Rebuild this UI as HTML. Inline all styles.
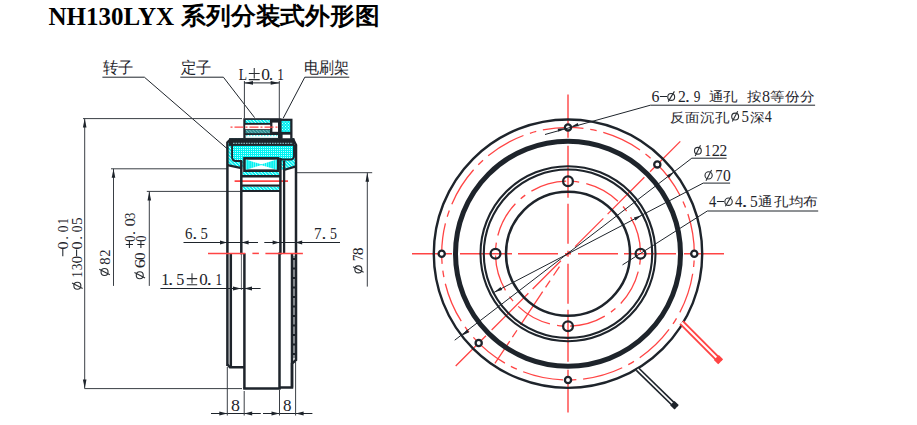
<!DOCTYPE html>
<html><head><meta charset="utf-8"><style>
html,body{margin:0;padding:0;background:#fff;width:917px;height:425px;overflow:hidden}
svg{display:block}
</style></head><body>
<svg width="917" height="425" viewBox="0 0 917 425">
<rect width="917" height="425" fill="#fff"/>
<text x="48.5" y="25" font-family="Liberation Serif" font-weight="bold" font-size="25" fill="#000">NH130LYX</text>
<text x="181.3" y="23.6" font-family="Liberation Serif" font-weight="bold" font-size="24" fill="#000" textLength="198" lengthAdjust="spacingAndGlyphs">系列分装式外形图</text>
<circle cx="568.0" cy="253.7" r="126.3" fill="none" stroke="#ff4444" stroke-width="1.3" stroke-dasharray="40.85 6.8 6.6 6.8" stroke-dashoffset="40.88"/>
<circle cx="568.0" cy="253.7" r="72.5" fill="none" stroke="#ff4444" stroke-width="1.3" stroke-dasharray="36.5 7.3 5.8 7.3" stroke-dashoffset="38.66"/>
<line x1="568.00" y1="253.70" x2="412.00" y2="253.70" stroke="#ff4444" stroke-width="1.4" stroke-dasharray="3 7 40 6 52 8 100"/>
<line x1="568.00" y1="253.70" x2="724.00" y2="253.70" stroke="#ff4444" stroke-width="1.4" stroke-dasharray="3 7 40 6 52 8 100"/>
<line x1="568.00" y1="253.70" x2="568.00" y2="94.40" stroke="#ff4444" stroke-width="1.4" stroke-dasharray="3 7 40 6 52 8 100"/>
<line x1="568.00" y1="253.70" x2="568.00" y2="412.50" stroke="#ff4444" stroke-width="1.4" stroke-dasharray="3 7 40 6 52 8 100"/>
<line x1="568.00" y1="253.70" x2="680.30" y2="141.40" stroke="#ff4444" stroke-width="1.3" stroke-dasharray="3 7 40 6 52 8 100"/>
<line x1="568.00" y1="253.70" x2="455.70" y2="366.00" stroke="#ff4444" stroke-width="1.3" stroke-dasharray="3 7 40 6 52 8 100"/>
<line x1="568.00" y1="253.70" x2="494.90" y2="363.40" stroke="#ff4444" stroke-width="1.3" stroke-dasharray="0 15.4 10.8 6.1 8.2 5.2 39.8 6.5 8.3 4.7 40"/>
<circle cx="568.0" cy="253.7" r="134.2" fill="none" stroke="#1e242b" stroke-width="2.4" />
<circle cx="568.0" cy="253.7" r="112.5" fill="none" stroke="#1e242b" stroke-width="5" />
<circle cx="568.0" cy="253.7" r="87.5" fill="none" stroke="#1e242b" stroke-width="2.1" />
<circle cx="568.0" cy="253.7" r="84.2" fill="none" stroke="#1e242b" stroke-width="2.1" />
<circle cx="568.0" cy="253.7" r="62" fill="none" stroke="#1e242b" stroke-width="2.5" />
<circle cx="568.00" cy="127.40" r="3.1" fill="#fff" stroke="#1e242b" stroke-width="2.3"/>
<circle cx="657.31" cy="164.39" r="3.1" fill="#fff" stroke="#1e242b" stroke-width="2.3"/>
<circle cx="694.30" cy="253.70" r="3.1" fill="#fff" stroke="#1e242b" stroke-width="2.3"/>
<circle cx="441.70" cy="253.70" r="3.1" fill="#fff" stroke="#1e242b" stroke-width="2.3"/>
<circle cx="478.69" cy="343.01" r="3.1" fill="#fff" stroke="#1e242b" stroke-width="2.3"/>
<circle cx="568.00" cy="380.00" r="3.1" fill="#fff" stroke="#1e242b" stroke-width="2.3"/>
<circle cx="568.00" cy="181.20" r="4.9" fill="none" stroke="#1e242b" stroke-width="2.3"/>
<circle cx="640.50" cy="253.70" r="4.9" fill="none" stroke="#1e242b" stroke-width="2.3"/>
<circle cx="495.50" cy="253.70" r="4.9" fill="none" stroke="#1e242b" stroke-width="2.3"/>
<circle cx="568.00" cy="326.20" r="4.9" fill="none" stroke="#1e242b" stroke-width="2.3"/>
<line x1="454.70" y1="340.20" x2="691.80" y2="158.20" stroke="#1e242b" stroke-width="1.0" />
<line x1="691.80" y1="158.20" x2="726.60" y2="158.20" stroke="#1e242b" stroke-width="1.0" />
<polygon points="674.26,171.73 668.96,177.96 666.89,175.27" fill="#1e242b"/>
<polygon points="461.74,335.67 467.04,329.44 469.11,332.13" fill="#1e242b"/>
<line x1="493.60" y1="292.60" x2="703.20" y2="183.10" stroke="#1e242b" stroke-width="1.0" />
<line x1="703.20" y1="183.10" x2="730.10" y2="183.10" stroke="#1e242b" stroke-width="1.0" />
<polygon points="641.75,215.19 635.45,220.40 633.87,217.38" fill="#1e242b"/>
<polygon points="494.25,292.21 500.55,287.00 502.13,290.02" fill="#1e242b"/>
<line x1="622.50" y1="264.90" x2="707.30" y2="211.00" stroke="#1e242b" stroke-width="1.0" />
<line x1="707.30" y1="211.00" x2="818.20" y2="211.00" stroke="#1e242b" stroke-width="1.0" />
<line x1="545.00" y1="134.50" x2="650.40" y2="105.20" stroke="#1e242b" stroke-width="1.0" />
<line x1="650.40" y1="105.20" x2="815.10" y2="105.20" stroke="#1e242b" stroke-width="1.0" />
<polygon points="564.80,128.30 558.48,131.72 557.63,128.63" fill="#1e242b"/>
<polygon points="571.50,126.50 577.82,123.08 578.67,126.17" fill="#1e242b"/>
<line x1="681.50" y1="322.50" x2="720.60" y2="361.80" stroke="#ff4444" stroke-width="5.8" />
<line x1="681.50" y1="322.50" x2="720.60" y2="361.80" stroke="#fff" stroke-width="2.0" />
<line x1="716.37" y1="357.55" x2="720.60" y2="361.80" stroke="#ff4444" stroke-width="7.0" />
<line x1="637.50" y1="369.20" x2="676.60" y2="407.30" stroke="#1e242b" stroke-width="5.0" />
<line x1="637.50" y1="369.20" x2="676.60" y2="407.30" stroke="#fff" stroke-width="1.7" />
<line x1="672.30" y1="403.11" x2="676.60" y2="407.30" stroke="#1e242b" stroke-width="6.2" />
<text transform="translate(651.62,101.90) scale(0.995,1)" font-family="Liberation Serif" font-size="16.0" fill="#1e242b">6</text>
<line x1="659.9" y1="96.5" x2="667" y2="96.5" stroke="#1e242b" stroke-width="1.05"/>
<circle cx="671.2" cy="96.95" r="3.45" fill="none" stroke="#2a2e33" stroke-width="1.1"/>
<line x1="668.2" y1="101.6" x2="674.4" y2="91.4" stroke="#2a2e33" stroke-width="1.1"/>
<text transform="translate(677.91,101.90) scale(0.982,1)" font-family="Liberation Serif" font-size="16.0" fill="#1e242b">2</text>
<text transform="translate(685.02,101.90) scale(1.217,1)" font-family="Liberation Serif" font-size="16.0" fill="#1e242b">.</text>
<text transform="translate(693.77,101.90) scale(0.835,1)" font-family="Liberation Serif" font-size="16.0" fill="#1e242b">9</text>
<text transform="translate(761.89,101.90) scale(1.003,1)" font-family="Liberation Serif" font-size="16.0" fill="#1e242b">8</text>
<text transform="translate(708.7,100.8) scale(1.12,1)" font-family="Liberation Serif" font-size="13.2" fill="#1e242b">通</text>
<text transform="translate(723.4,100.8) scale(1.12,1)" font-family="Liberation Serif" font-size="13.2" fill="#1e242b">孔</text>
<text transform="translate(746.7,100.8) scale(1.12,1)" font-family="Liberation Serif" font-size="13.2" fill="#1e242b">按</text>
<text transform="translate(769.7,100.8) scale(1.12,1)" font-family="Liberation Serif" font-size="13.2" fill="#1e242b">等</text>
<text transform="translate(784.9,100.8) scale(1.12,1)" font-family="Liberation Serif" font-size="13.2" fill="#1e242b">份</text>
<text transform="translate(799.7,100.8) scale(1.12,1)" font-family="Liberation Serif" font-size="13.2" fill="#1e242b">分</text>
<text transform="translate(670.2,121.7) scale(1.12,1)" font-family="Liberation Serif" font-size="13.2" fill="#1e242b">反</text>
<text transform="translate(685.2,121.7) scale(1.12,1)" font-family="Liberation Serif" font-size="13.2" fill="#1e242b">面</text>
<text transform="translate(700.2,121.7) scale(1.12,1)" font-family="Liberation Serif" font-size="13.2" fill="#1e242b">沉</text>
<text transform="translate(714.6,121.7) scale(1.12,1)" font-family="Liberation Serif" font-size="13.2" fill="#1e242b">孔</text>
<text transform="translate(749.7,121.7) scale(1.12,1)" font-family="Liberation Serif" font-size="13.2" fill="#1e242b">深</text>
<circle cx="735.15" cy="116.6" r="3.45" fill="none" stroke="#2a2e33" stroke-width="1.1"/>
<line x1="732.3" y1="121.5" x2="737.7" y2="111.2" stroke="#2a2e33" stroke-width="1.1"/>
<text transform="translate(741.53,121.80) scale(0.931,1)" font-family="Liberation Serif" font-size="16.0" fill="#1e242b">5</text>
<text transform="translate(764.73,121.80) scale(0.874,1)" font-family="Liberation Serif" font-size="16.0" fill="#1e242b">4</text>
<circle cx="697.9" cy="150.75" r="3.4" fill="none" stroke="#2a2e33" stroke-width="1.1"/>
<line x1="695.2" y1="156" x2="700.5" y2="145.3" stroke="#2a2e33" stroke-width="1.1"/>
<text transform="translate(704.63,155.80) scale(0.763,1)" font-family="Liberation Serif" font-size="16.0" fill="#1e242b">1</text>
<text transform="translate(711.78,155.80) scale(1.029,1)" font-family="Liberation Serif" font-size="16.0" fill="#1e242b">2</text>
<text transform="translate(719.52,155.80) scale(0.967,1)" font-family="Liberation Serif" font-size="16.0" fill="#1e242b">2</text>
<circle cx="708.6" cy="175.4" r="3.6" fill="none" stroke="#2a2e33" stroke-width="1.1"/>
<line x1="706.0" y1="180.8" x2="711.6" y2="170.0" stroke="#2a2e33" stroke-width="1.1"/>
<text transform="translate(715.24,180.80) scale(0.910,1)" font-family="Liberation Serif" font-size="16.0" fill="#1e242b">7</text>
<text transform="translate(722.91,180.80) scale(0.973,1)" font-family="Liberation Serif" font-size="16.0" fill="#1e242b">0</text>
<text transform="translate(708.91,206.80) scale(0.914,1)" font-family="Liberation Serif" font-size="16.0" fill="#1e242b">4</text>
<line x1="716.9" y1="201.5" x2="724" y2="201.5" stroke="#1e242b" stroke-width="1.05"/>
<circle cx="728.55" cy="201.65" r="3.7" fill="none" stroke="#2a2e33" stroke-width="1.1"/>
<line x1="725.4" y1="206.2" x2="731.3" y2="196.2" stroke="#2a2e33" stroke-width="1.1"/>
<text transform="translate(735.11,206.80) scale(0.914,1)" font-family="Liberation Serif" font-size="16.0" fill="#1e242b">4</text>
<text transform="translate(741.48,206.80) scale(1.534,1)" font-family="Liberation Serif" font-size="16.0" fill="#1e242b">.</text>
<text transform="translate(750.11,206.80) scale(0.962,1)" font-family="Liberation Serif" font-size="16.0" fill="#1e242b">5</text>
<text transform="translate(758.0,205.9) scale(1.12,1)" font-family="Liberation Serif" font-size="13.2" fill="#1e242b">通</text>
<text transform="translate(773.8,205.9) scale(1.12,1)" font-family="Liberation Serif" font-size="13.2" fill="#1e242b">孔</text>
<text transform="translate(788.8,205.9) scale(1.12,1)" font-family="Liberation Serif" font-size="13.2" fill="#1e242b">均</text>
<text transform="translate(803.2,205.9) scale(1.12,1)" font-family="Liberation Serif" font-size="13.2" fill="#1e242b">布</text>
<text x="102.8" y="72.8" font-family="Liberation Serif" font-size="15.6" fill="#1e242b" text-anchor="start" font-weight="normal" textLength="30.8" lengthAdjust="spacingAndGlyphs">转子</text>
<text x="181.1" y="73.0" font-family="Liberation Serif" font-size="15.6" fill="#1e242b" text-anchor="start" font-weight="normal" textLength="30.8" lengthAdjust="spacingAndGlyphs">定子</text>
<text x="304.3" y="73.0" font-family="Liberation Serif" font-size="15.6" fill="#1e242b" text-anchor="start" font-weight="normal" textLength="45" lengthAdjust="spacingAndGlyphs">电刷架</text>
<text transform="translate(238.71,79.90) scale(0.850,1)" font-family="Liberation Serif" font-size="16.0" fill="#1e242b">L</text>
<path d="M248.8,73.4 H259.7 M254.25,68.1 V78.39999999999999 M248.8,79.6 H259.7" stroke="#2a2e33" stroke-width="1.05" fill="none"/>
<text transform="translate(261.14,79.90) scale(1.091,1)" font-family="Liberation Serif" font-size="16.0" fill="#1e242b">0</text>
<text transform="translate(268.83,79.90) scale(1.111,1)" font-family="Liberation Serif" font-size="16.0" fill="#1e242b">.</text>
<text transform="translate(277.13,79.90) scale(0.834,1)" font-family="Liberation Serif" font-size="16.0" fill="#1e242b">1</text>
<line x1="102.40" y1="77.20" x2="144.40" y2="77.20" stroke="#1e242b" stroke-width="1" />
<line x1="144.40" y1="77.20" x2="227.50" y2="149.00" stroke="#1e242b" stroke-width="1" />
<line x1="180.30" y1="77.20" x2="223.40" y2="77.20" stroke="#1e242b" stroke-width="1" />
<line x1="223.40" y1="77.20" x2="254.60" y2="117.60" stroke="#1e242b" stroke-width="1" />
<line x1="304.80" y1="77.20" x2="349.30" y2="77.20" stroke="#1e242b" stroke-width="1" />
<line x1="304.80" y1="77.20" x2="283.10" y2="118.40" stroke="#1e242b" stroke-width="1" />
<line x1="244.40" y1="81.00" x2="244.40" y2="118.00" stroke="#3a3f45" stroke-width="1" />
<line x1="279.30" y1="81.00" x2="279.30" y2="118.00" stroke="#3a3f45" stroke-width="1" />
<line x1="244.40" y1="82.90" x2="279.30" y2="82.90" stroke="#1e242b" stroke-width="1" />
<polygon points="244.40,82.90 253.00,81.10 253.00,84.70" fill="#1e242b"/>
<polygon points="279.30,82.90 270.70,84.70 270.70,81.10" fill="#1e242b"/>
<line x1="83.00" y1="118.60" x2="242.00" y2="118.60" stroke="#3a3f45" stroke-width="1" />
<line x1="84.70" y1="118.60" x2="84.70" y2="388.50" stroke="#3a3f45" stroke-width="1" />
<polygon points="84.70,118.60 86.50,127.60 82.90,127.60" fill="#1e242b"/>
<polygon points="84.70,388.50 82.90,379.50 86.50,379.50" fill="#1e242b"/>
<line x1="84.50" y1="388.60" x2="242.00" y2="388.60" stroke="#3a3f45" stroke-width="1" />
<line x1="111.00" y1="168.80" x2="227.00" y2="168.80" stroke="#3a3f45" stroke-width="1" />
<line x1="113.50" y1="168.80" x2="113.50" y2="285.90" stroke="#3a3f45" stroke-width="1" />
<polygon points="113.50,168.80 115.30,177.80 111.70,177.80" fill="#1e242b"/>
<line x1="146.80" y1="191.40" x2="241.00" y2="191.40" stroke="#3a3f45" stroke-width="1" />
<line x1="149.30" y1="191.40" x2="149.30" y2="285.90" stroke="#3a3f45" stroke-width="1" />
<polygon points="149.30,191.40 151.10,200.40 147.50,200.40" fill="#1e242b"/>
<line x1="296.00" y1="172.70" x2="372.20" y2="172.70" stroke="#3a3f45" stroke-width="1" />
<line x1="367.30" y1="172.70" x2="367.30" y2="286.60" stroke="#3a3f45" stroke-width="1" />
<polygon points="367.30,172.70 369.10,181.70 365.50,181.70" fill="#1e242b"/>
<circle cx="77.35" cy="285.75" r="3.5" fill="none" stroke="#2a2e33" stroke-width="1.1"/>
<line x1="72.05" y1="283.05" x2="82.65" y2="288.55" stroke="#2a2e33" stroke-width="1.1"/>
<text transform="translate(82.00,277.57) rotate(-90) scale(0.788,1)" font-family="Liberation Serif" font-size="15.5" fill="#1e242b">1</text>
<text transform="translate(82.00,270.14) rotate(-90) scale(0.859,1)" font-family="Liberation Serif" font-size="15.5" fill="#1e242b">3</text>
<text transform="translate(82.00,263.58) rotate(-90) scale(0.989,1)" font-family="Liberation Serif" font-size="15.5" fill="#1e242b">0</text>
<line x1="76.6" y1="249.5" x2="76.6" y2="256.3" stroke="#1e242b" stroke-width="1.05"/>
<text transform="translate(82.00,249.61) rotate(-90) scale(1.035,1)" font-family="Liberation Serif" font-size="15.5" fill="#1e242b">0</text>
<text transform="translate(82.00,239.75) rotate(-90) scale(0.928,1)" font-family="Liberation Serif" font-size="15.5" fill="#1e242b">.</text>
<text transform="translate(82.00,232.31) rotate(-90) scale(0.868,1)" font-family="Liberation Serif" font-size="15.5" fill="#1e242b">0</text>
<text transform="translate(82.00,225.09) rotate(-90) scale(0.993,1)" font-family="Liberation Serif" font-size="15.5" fill="#1e242b">5</text>
<line x1="62.8" y1="249" x2="62.8" y2="256.3" stroke="#1e242b" stroke-width="1.05"/>
<text transform="translate(68.10,249.61) rotate(-90) scale(1.035,1)" font-family="Liberation Serif" font-size="15.5" fill="#1e242b">0</text>
<text transform="translate(68.10,239.75) rotate(-90) scale(0.928,1)" font-family="Liberation Serif" font-size="15.5" fill="#1e242b">.</text>
<text transform="translate(68.10,232.31) rotate(-90) scale(0.868,1)" font-family="Liberation Serif" font-size="15.5" fill="#1e242b">0</text>
<text transform="translate(68.10,224.35) rotate(-90) scale(0.770,1)" font-family="Liberation Serif" font-size="15.5" fill="#1e242b">1</text>
<circle cx="104.55" cy="272" r="3.5" fill="none" stroke="#2a2e33" stroke-width="1.1"/>
<line x1="99.25" y1="269.30" x2="109.85" y2="274.80" stroke="#2a2e33" stroke-width="1.1"/>
<text transform="translate(110.10,264.66) rotate(-90) scale(0.944,1)" font-family="Liberation Serif" font-size="15.5" fill="#1e242b">8</text>
<text transform="translate(110.10,256.74) rotate(-90) scale(0.933,1)" font-family="Liberation Serif" font-size="15.5" fill="#1e242b">2</text>
<circle cx="139.75" cy="275.3" r="3.5" fill="none" stroke="#2a2e33" stroke-width="1.1"/>
<line x1="134.45" y1="272.60" x2="145.05" y2="278.10" stroke="#2a2e33" stroke-width="1.1"/>
<text transform="translate(144.90,268.29) rotate(-90) scale(1.193,1)" font-family="Liberation Serif" font-size="15.5" fill="#1e242b">6</text>
<text transform="translate(144.90,259.88) rotate(-90) scale(0.974,1)" font-family="Liberation Serif" font-size="15.5" fill="#1e242b">0</text>
<path d="M137.3,244.4 H144.5 M140.9,240.8 V248.0" stroke="#1e242b" stroke-width="1.05" fill="none"/>
<text transform="translate(145.90,241.87) rotate(-90) scale(0.792,1)" font-family="Liberation Serif" font-size="15.5" fill="#1e242b">0</text>
<path d="M125.80000000000001,244.4 H133.0 M129.4,240.8 V248.0" stroke="#1e242b" stroke-width="1.05" fill="none"/>
<text transform="translate(135.10,241.87) rotate(-90) scale(0.792,1)" font-family="Liberation Serif" font-size="15.5" fill="#1e242b">0</text>
<text transform="translate(135.10,234.96) rotate(-90) scale(1.037,1)" font-family="Liberation Serif" font-size="15.5" fill="#1e242b">.</text>
<text transform="translate(135.10,226.54) rotate(-90) scale(1.081,1)" font-family="Liberation Serif" font-size="15.5" fill="#1e242b">0</text>
<text transform="translate(135.10,219.00) rotate(-90) scale(0.812,1)" font-family="Liberation Serif" font-size="15.5" fill="#1e242b">3</text>
<circle cx="358.35" cy="269.4" r="3.5" fill="none" stroke="#2a2e33" stroke-width="1.1"/>
<line x1="353.05" y1="266.70" x2="363.65" y2="272.20" stroke="#2a2e33" stroke-width="1.1"/>
<text transform="translate(363.10,261.03) rotate(-90) scale(0.812,1)" font-family="Liberation Serif" font-size="15.5" fill="#1e242b">7</text>
<text transform="translate(363.10,255.19) rotate(-90) scale(1.005,1)" font-family="Liberation Serif" font-size="15.5" fill="#1e242b">8</text>
<text transform="translate(184.96,238.70) scale(0.936,1)" font-family="Liberation Serif" font-size="16.0" fill="#1e242b">6</text>
<text transform="translate(192.26,238.70) scale(1.269,1)" font-family="Liberation Serif" font-size="16.0" fill="#1e242b">.</text>
<text transform="translate(200.55,238.70) scale(0.915,1)" font-family="Liberation Serif" font-size="16.0" fill="#1e242b">5</text>
<line x1="183.50" y1="242.50" x2="258.00" y2="242.50" stroke="#1e242b" stroke-width="1" />
<polygon points="227.00,242.50 220.00,244.40 220.00,240.60" fill="#1e242b"/>
<polygon points="241.60,242.50 248.60,240.60 248.60,244.40" fill="#1e242b"/>
<text transform="translate(313.91,238.70) scale(0.941,1)" font-family="Liberation Serif" font-size="16.0" fill="#1e242b">7</text>
<text transform="translate(321.42,238.70) scale(1.217,1)" font-family="Liberation Serif" font-size="16.0" fill="#1e242b">.</text>
<text transform="translate(329.89,238.70) scale(0.869,1)" font-family="Liberation Serif" font-size="16.0" fill="#1e242b">5</text>
<line x1="264.30" y1="242.50" x2="340.00" y2="242.50" stroke="#1e242b" stroke-width="1" />
<polygon points="279.60,242.50 272.60,244.40 272.60,240.60" fill="#1e242b"/>
<polygon points="295.20,242.50 302.20,240.60 302.20,244.40" fill="#1e242b"/>
<text transform="translate(161.28,285.10) scale(1.012,1)" font-family="Liberation Serif" font-size="16.0" fill="#1e242b">1</text>
<text transform="translate(168.11,285.10) scale(1.322,1)" font-family="Liberation Serif" font-size="16.0" fill="#1e242b">.</text>
<text transform="translate(176.16,285.10) scale(1.008,1)" font-family="Liberation Serif" font-size="16.0" fill="#1e242b">5</text>
<path d="M186.8,278.6 H197.2 M192.0,273.2 V283.6 M186.8,284.8 H197.2" stroke="#2a2e33" stroke-width="1.05" fill="none"/>
<text transform="translate(199.15,285.10) scale(1.062,1)" font-family="Liberation Serif" font-size="16.0" fill="#1e242b">0</text>
<text transform="translate(206.55,285.10) scale(1.375,1)" font-family="Liberation Serif" font-size="16.0" fill="#1e242b">.</text>
<text transform="translate(215.53,285.10) scale(0.834,1)" font-family="Liberation Serif" font-size="16.0" fill="#1e242b">1</text>
<line x1="160.40" y1="288.50" x2="260.60" y2="288.50" stroke="#1e242b" stroke-width="1" />
<polygon points="241.00,288.50 233.00,290.40 233.00,286.60" fill="#1e242b"/>
<polygon points="244.00,288.50 252.00,286.60 252.00,290.40" fill="#1e242b"/>
<text transform="translate(230.92,410.80) scale(1.121,1)" font-family="Liberation Serif" font-size="16.0" fill="#1e242b">8</text>
<text transform="translate(282.95,410.80) scale(1.062,1)" font-family="Liberation Serif" font-size="16.0" fill="#1e242b">8</text>
<line x1="211.00" y1="413.50" x2="260.80" y2="413.50" stroke="#1e242b" stroke-width="1" />
<polygon points="227.30,413.50 219.30,415.40 219.30,411.60" fill="#1e242b"/>
<polygon points="244.20,413.50 252.20,411.60 252.20,415.40" fill="#1e242b"/>
<line x1="263.00" y1="413.50" x2="312.40" y2="413.50" stroke="#1e242b" stroke-width="1" />
<polygon points="279.50,413.50 271.50,415.40 271.50,411.60" fill="#1e242b"/>
<polygon points="295.60,413.50 303.60,411.60 303.60,415.40" fill="#1e242b"/>
<line x1="227.30" y1="367.00" x2="227.30" y2="415.50" stroke="#3a3f45" stroke-width="1" />
<line x1="244.20" y1="391.00" x2="244.20" y2="415.50" stroke="#3a3f45" stroke-width="1" />
<line x1="279.50" y1="390.00" x2="279.50" y2="415.50" stroke="#3a3f45" stroke-width="1" />
<line x1="295.60" y1="362.00" x2="295.60" y2="415.50" stroke="#3a3f45" stroke-width="1" />
<defs>
<pattern id="dots" width="2" height="2" patternUnits="userSpaceOnUse"><rect width="2" height="2" fill="#00f2f2"/><rect x="1" y="1" width="1" height="1" fill="#bff"/></pattern>
<pattern id="hatch" width="2.4" height="2.4" patternUnits="userSpaceOnUse" patternTransform="rotate(-45)"><rect width="2.4" height="2.4" fill="#00eeee"/><rect width="0.8" height="2.4" fill="#cff"/></pattern>
<pattern id="hatchd" width="2.4" height="2.4" patternUnits="userSpaceOnUse" patternTransform="rotate(-45)"><rect width="2.4" height="2.4" fill="#2a8c90"/><rect width="0.8" height="2.4" fill="#7bb"/></pattern>
<pattern id="lite" width="3" height="3" patternUnits="userSpaceOnUse"><rect width="3" height="3" fill="#f4ffff"/><rect width="1.5" height="1.2" fill="#5ee"/></pattern>
<pattern id="chk" width="3" height="3" patternUnits="userSpaceOnUse"><rect width="3" height="3" fill="#00f0f0"/><rect x="0" y="0" width="1" height="1" fill="#bff"/><rect x="1.5" y="1.5" width="1" height="1" fill="#bff"/></pattern>
<pattern id="vh" width="2.2" height="2" patternUnits="userSpaceOnUse"><rect width="2.2" height="2" fill="#00f0f0"/><rect width="0.5" height="2" fill="#bff"/></pattern>
</defs>
<rect x="243.3" y="118.2" width="37" height="21" fill="#1e242b" />
<rect x="245.6" y="119.9" width="24.4" height="3.0" fill="url(#hatch)" />
<rect x="245.2" y="124.8" width="25" height="4.4" fill="#fff" />
<rect x="245.6" y="130" width="24.4" height="3.2" fill="url(#hatchd)" />
<rect x="245.6" y="135.0" width="32.4" height="2.9" fill="url(#lite)" />
<rect x="272.4" y="122.6" width="5.6" height="9.2" fill="#fff" />
<rect x="280.2" y="118.7" width="12.3" height="21.2" fill="#1e242b" />
<rect x="280.8" y="120.9" width="9.4" height="11" fill="url(#chk)" />
<line x1="230.50" y1="127.20" x2="281.00" y2="127.20" stroke="#ff4444" stroke-width="1.2" stroke-dasharray="2 2 9 2"/>
<path d="M227.4,141.5 L230,138.3 L293,138.3 L296,144 L296,166.4 L283.5,170 L241,168.3 L227.4,165.5 Z" fill="url(#hatch)"/>
<path d="M232.2,145.5 L293.8,145.5 L293.8,156.5 Q293.8,160 290,160 L280,160 L280,158 L243,158 L243,160.5 L236,160.5 Q232.2,160.5 232.2,157 Z" fill="url(#dots)"/>
<rect x="229" y="138.3" width="65.5" height="7.6" fill="#1e242b" />
<line x1="233.00" y1="143.40" x2="293.00" y2="143.40" stroke="#7fb4b8" stroke-width="1.3" stroke-dasharray="1.6 1"/>
<rect x="282.6" y="134.7" width="7.6" height="4.6" fill="#fff" />
<path d="M232.1,144 L232.1,157 Q232.1,161 236,161 L242,161" fill="none" stroke="#1e242b" stroke-width="1.9"/>
<path d="M280,159.5 L290,159.5 Q294,159.5 294,156 L294,145" fill="none" stroke="#1e242b" stroke-width="1.9"/>
<path d="M227.4,366 L227.4,142.4 L230.4,139.4 L293.2,139.4 L296,145 L296,360 L292,363.5 L292,387.5 L279.6,387.5" fill="none" stroke="#1e242b" stroke-width="2.5" stroke-linejoin="miter"/>
<line x1="227.50" y1="165.20" x2="241.50" y2="168.20" stroke="#1e242b" stroke-width="2.2" />
<line x1="283.00" y1="170.30" x2="296.00" y2="166.40" stroke="#1e242b" stroke-width="2.2" />
<rect x="244.5" y="158.4" width="33.6" height="12.3" fill="#fff" stroke="#1e242b" stroke-width="2.7"/>
<polygon points="245.8,159.6 262.5,164.7 245.8,169.8" fill="url(#vh)"/>
<polygon points="276.8,159.6 260.1,164.7 276.8,169.8" fill="url(#vh)"/>
<line x1="234.60" y1="181.10" x2="288.00" y2="181.10" stroke="#ff4444" stroke-width="1.6" />
<rect x="242.5" y="172" width="37" height="3.1" fill="url(#hatch)" />
<line x1="241.00" y1="176.30" x2="281.00" y2="176.30" stroke="#1e242b" stroke-width="2.4" />
<line x1="241.00" y1="185.60" x2="281.00" y2="185.60" stroke="#1e242b" stroke-width="2.4" />
<rect x="242.5" y="186.9" width="37" height="3.1" fill="url(#hatch)" />
<line x1="241.00" y1="191.00" x2="281.00" y2="191.00" stroke="#1e242b" stroke-width="2.2" />
<line x1="241.30" y1="160.50" x2="241.30" y2="254.30" stroke="#1e242b" stroke-width="2.5" />
<line x1="280.30" y1="118.40" x2="280.30" y2="139.00" stroke="#1e242b" stroke-width="2.5" />
<line x1="280.40" y1="158.00" x2="280.40" y2="254.50" stroke="#1e242b" stroke-width="2.5" />
<line x1="279.50" y1="252.50" x2="279.50" y2="388.70" stroke="#1e242b" stroke-width="2.5" />
<line x1="284.10" y1="160.50" x2="284.10" y2="253.40" stroke="#1e242b" stroke-width="2.3" />
<line x1="244.40" y1="253.40" x2="244.40" y2="388.70" stroke="#1e242b" stroke-width="2.5" />
<line x1="241.40" y1="253.40" x2="241.40" y2="290.00" stroke="#3a3f45" stroke-width="0.8" />
<line x1="230.80" y1="253.40" x2="230.80" y2="366.00" stroke="#1e242b" stroke-width="2.5" />
<line x1="292.00" y1="253.40" x2="292.00" y2="387.50" stroke="#1e242b" stroke-width="2.5" />
<line x1="294.00" y1="256.00" x2="294.00" y2="358.00" stroke="#6a6f75" stroke-width="1.5" />
<line x1="294.00" y1="258.00" x2="294.00" y2="358.00" stroke="#1e242b" stroke-width="2.2" stroke-dasharray="2 7.5"/>
<path d="M227.4,364.5 L230,367.3 L244.4,367.3" fill="none" stroke="#1e242b" stroke-width="2.5"/>
<line x1="243.20" y1="388.50" x2="280.70" y2="388.50" stroke="#1e242b" stroke-width="2.5" />
<line x1="208.00" y1="253.40" x2="245.30" y2="253.40" stroke="#ff4444" stroke-width="1.5" />
<line x1="252.40" y1="253.40" x2="258.90" y2="253.40" stroke="#ff4444" stroke-width="1.5" />
<line x1="265.40" y1="253.40" x2="302.90" y2="253.40" stroke="#ff4444" stroke-width="1.5" />
</svg>
</body></html>
